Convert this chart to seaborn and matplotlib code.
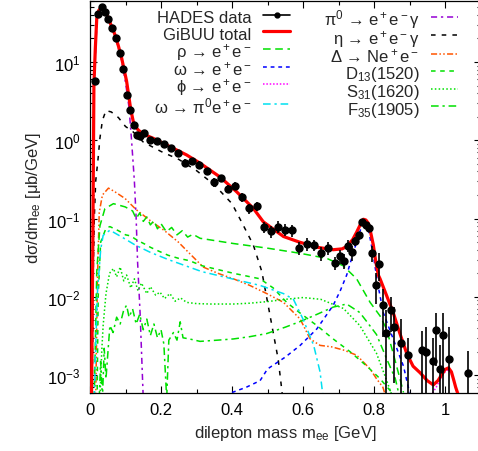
import numpy as np
import pandas as pd
import seaborn as sns
import matplotlib.pyplot as plt
from matplotlib.lines import Line2D
from matplotlib.ticker import MultipleLocator, LogLocator, NullFormatter, FormatStrFormatter

# HADES data points (mass in GeV, dsigma/dm in mub/GeV)
hades_m = [0.013, 0.0235, 0.033, 0.043, 0.052, 0.063, 0.073, 0.084, 0.094, 0.103,
           0.113, 0.123, 0.133, 0.142, 0.152, 0.169, 0.188, 0.208, 0.228, 0.249,
           0.268, 0.288, 0.308, 0.329, 0.349, 0.369, 0.389, 0.409, 0.429, 0.449,
           0.470, 0.490, 0.509, 0.530, 0.549, 0.570, 0.590, 0.610, 0.630, 0.650,
           0.670, 0.690, 0.704, 0.715, 0.727, 0.737, 0.747, 0.757, 0.767, 0.777,
           0.787, 0.795, 0.806, 0.815, 0.824, 0.835, 0.847, 0.855, 0.875, 0.896,
           0.935, 0.945, 0.965, 0.975, 0.986, 0.995, 1.010, 1.066]
hades_y = [5.8, 41, 50, 44, 35, 27, 20, 13, 8.2, 3.8,
           2.45, 1.57, 1.17, 1.12, 1.23, 1.01, 0.97, 0.89, 0.79, 0.68,
           0.52, 0.54, 0.49, 0.40, 0.29, 0.33, 0.24, 0.26, 0.19, 0.135,
           0.144, 0.078, 0.069, 0.079, 0.072, 0.071, 0.042, 0.048, 0.046, 0.036,
           0.042, 0.027, 0.033, 0.029, 0.045, 0.037, 0.052, 0.061, 0.091, 0.082,
           0.076, 0.036, 0.014, 0.026, 0.0078, 0.0035, 0.0068, 0.0041, 0.0026, 0.0018,
           0.0021, 0.0020, 0.0015, 0.0038, 0.0012, 0.0033, 0.0016, 0.00105]
hades_err = [0.3, 2.0, 2.2, 2.0, 1.6, 1.2, 0.9, 0.6, 0.4, 0.2,
             0.12, 0.09, 0.1, 0.12, 0.13, 0.06, 0.06, 0.06, 0.06, 0.06,
             0.05, 0.05, 0.05, 0.04, 0.035, 0.035, 0.03, 0.03, 0.025, 0.02,
             0.02, 0.013, 0.012, 0.013, 0.012, 0.012, 0.008, 0.009, 0.008, 0.007,
             0.008, 0.005, 0.007, 0.0065, 0.008, 0.008, 0.007, 0.007, 0.009, 0.008,
             0.008, 0.0085, 0.006, 0.01, 0.0047, 0.0033, 0.0032, 0.0033, 0.0026, 0.0012,
             0.0016, 0.0021, 0.0015, 0.0025, 0.0012, 0.003, 0.0025, 0.001]

# GiBUU total
total_m = [0.004, 0.008, 0.011, 0.015, 0.019, 0.025, 0.033, 0.042, 0.052, 0.06,
           0.07, 0.08, 0.089, 0.096, 0.103, 0.108, 0.113, 0.118, 0.122, 0.128,
           0.136, 0.15, 0.178, 0.225, 0.272, 0.31, 0.366, 0.413, 0.46, 0.488,
           0.545, 0.59, 0.64, 0.685, 0.71, 0.723, 0.74, 0.751, 0.762, 0.77,
           0.777, 0.784, 0.791, 0.798, 0.805, 0.812, 0.817, 0.835, 0.854, 0.872,
           0.892, 0.91, 0.93, 0.95, 0.967, 0.98, 0.99, 1.0, 1.01, 1.018,
           1.025, 1.03, 1.036]
total_y = [4e-4, 0.05, 5.1, 15, 36, 46, 49, 45, 36, 29,
           22.5, 16, 11.3, 8, 5.7, 4.0, 2.8, 2.1, 1.73, 1.5,
           1.35, 1.2, 1.06, 0.83, 0.65, 0.51, 0.34, 0.22, 0.135, 0.091,
           0.059, 0.050, 0.043, 0.040, 0.041, 0.044, 0.054, 0.067, 0.085, 0.098,
           0.096, 0.087, 0.065, 0.046, 0.028, 0.019, 0.017, 0.0105, 0.0063, 0.0035,
           0.0019, 0.0013, 0.00107, 0.00085, 0.00075, 0.00085, 0.001, 0.00118, 0.00124, 0.0011,
           0.00085, 0.0007, 0.00058]

# rho -> e+e-
rho_m = [0.012, 0.019, 0.028, 0.042, 0.066, 0.099, 0.12, 0.13, 0.14, 0.15,
         0.16, 0.17, 0.18, 0.19, 0.2, 0.215, 0.23, 0.245, 0.26, 0.275,
         0.29, 0.31, 0.404, 0.498, 0.592, 0.667, 0.713, 0.751, 0.789, 0.817,
         0.835, 0.854, 0.873, 0.883]
rho_y = [5e-4, 0.021, 0.081, 0.134, 0.155, 0.141, 0.125, 0.1, 0.118, 0.092,
         0.105, 0.083, 0.094, 0.074, 0.086, 0.068, 0.077, 0.062, 0.07, 0.058,
         0.063, 0.056, 0.048, 0.042, 0.036, 0.031, 0.025, 0.017, 0.0085, 0.0057,
         0.0039, 0.0019, 0.0009, 0.0006]

# omega -> e+e-
omega_m = [0.40, 0.44, 0.479, 0.50, 0.55, 0.592, 0.639, 0.685, 0.705, 0.723,
           0.742, 0.76, 0.77, 0.777, 0.784, 0.791, 0.798, 0.81, 0.826, 0.854,
           0.883, 0.90]
omega_y = [6e-4, 7e-4, 8.5e-4, 0.0012, 0.0017, 0.0024, 0.0039, 0.0078, 0.012, 0.019,
           0.037, 0.068, 0.091, 0.092, 0.074, 0.05, 0.034, 0.015, 0.0063, 0.0029,
           0.0013, 6e-4]

# phi -> e+e-
phi_m = [0.955, 0.975, 0.99, 1.0, 1.01, 1.02, 1.03, 1.037]
phi_y = [5e-4, 7e-4, 9.5e-4, 0.0011, 0.00118, 0.001, 0.0007, 5e-4]

# omega -> pi0 e+e-
omdal_m = [0.012, 0.02, 0.03, 0.037, 0.056, 0.09, 0.127, 0.17, 0.22, 0.315,
           0.40, 0.479, 0.545, 0.573, 0.60, 0.63, 0.648, 0.657]
omdal_y = [5e-4, 0.01, 0.04, 0.061, 0.071, 0.058, 0.046, 0.037, 0.030, 0.021,
           0.017, 0.014, 0.011, 0.0093, 0.0052, 0.0024, 0.0011, 5e-4]

# pi0 -> e+e-gamma
pi0_m = [0.006, 0.009, 0.011, 0.02, 0.03, 0.04, 0.05, 0.06, 0.07, 0.08,
         0.09, 0.10, 0.11, 0.117, 0.121, 0.125, 0.13, 0.134, 0.141, 0.15]
pi0_y = [4e-4, 0.3, 5, 36, 48, 46, 38, 30, 22, 15,
         10, 5.5, 2.6, 1.0, 0.55, 0.3, 0.1, 0.028, 0.0063, 5e-4]

# eta -> e+e-gamma
eta_m = [0.006, 0.009, 0.012, 0.016, 0.023, 0.028, 0.035, 0.045, 0.06, 0.08,
         0.1, 0.12, 0.15, 0.2, 0.25, 0.3, 0.35, 0.4, 0.43, 0.46,
         0.484, 0.502, 0.516, 0.53, 0.54, 0.545]
eta_y = [4e-4, 0.02, 0.1, 0.3, 0.6, 1.07, 1.8, 2.4, 2.3, 1.95,
         1.5, 1.3, 0.95, 0.72, 0.57, 0.41, 0.27, 0.155, 0.085, 0.046,
         0.021, 0.0077, 0.0035, 0.0016, 0.00066, 4e-4]

# Delta -> N e+e-
delta_m = [0.016, 0.021, 0.026, 0.035, 0.052, 0.07, 0.099, 0.13, 0.174, 0.21,
           0.249, 0.28, 0.319, 0.36, 0.404, 0.45, 0.498, 0.545, 0.592, 0.62,
           0.648, 0.68, 0.713, 0.751, 0.789, 0.807, 0.825, 0.835]
delta_y = [5e-4, 0.017, 0.12, 0.2, 0.245, 0.22, 0.18, 0.13, 0.091, 0.07,
           0.05, 0.036, 0.024, 0.02, 0.017, 0.014, 0.011, 0.0085, 0.0052, 0.0029,
           0.0024, 0.0023, 0.0021, 0.0018, 0.0012, 0.0009, 0.0007, 5e-4]

# D13(1520)
d13_m = [0.02, 0.023, 0.03, 0.045, 0.056, 0.08, 0.1, 0.115, 0.127, 0.14,
         0.155, 0.17, 0.19, 0.22, 0.25, 0.28, 0.315, 0.404, 0.479, 0.516,
         0.554, 0.59, 0.639, 0.685, 0.732, 0.78, 0.817, 0.85]
d13_y = [5e-4, 0.01, 0.05, 0.075, 0.079, 0.07, 0.062, 0.06, 0.055, 0.051,
         0.047, 0.043, 0.039, 0.034, 0.031, 0.029, 0.025, 0.02, 0.017, 0.013,
         0.0085, 0.0063, 0.0043, 0.0029, 0.002, 0.0013, 0.0009, 0.0006]

# S31(1620)
s31_m = [0.028, 0.033, 0.037, 0.045, 0.055, 0.066, 0.075, 0.085, 0.095, 0.103,
         0.115, 0.125, 0.135, 0.145, 0.16, 0.17, 0.185, 0.197, 0.21, 0.225,
         0.24, 0.255, 0.272, 0.3, 0.338, 0.404, 0.45, 0.5, 0.55, 0.60,
         0.65, 0.714, 0.76, 0.807, 0.83, 0.854]
s31_y = [5e-4, 0.002, 0.0043, 0.011, 0.02, 0.023, 0.018, 0.024, 0.016, 0.019,
         0.013, 0.017, 0.012, 0.015, 0.011, 0.0135, 0.0105, 0.0115, 0.0095, 0.011,
         0.0088, 0.0097, 0.0085, 0.0082, 0.0081, 0.0081, 0.0083, 0.0087, 0.0093, 0.0098,
         0.0093, 0.0071, 0.0043, 0.0019, 0.001, 5e-4]

# F35(1905)
f35_m = [0.026, 0.03, 0.035, 0.04, 0.045, 0.056, 0.065, 0.075, 0.085, 0.095,
         0.103, 0.11, 0.12, 0.13, 0.14, 0.15, 0.16, 0.17, 0.18, 0.19,
         0.2, 0.208, 0.216, 0.222, 0.235, 0.245, 0.254, 0.262, 0.28, 0.31,
         0.36, 0.404, 0.45, 0.498, 0.55, 0.59, 0.64, 0.685, 0.723, 0.76,
         0.78, 0.807, 0.836, 0.86, 0.873]
f35_y = [5e-4, 0.0015, 5e-4, 0.0022, 0.0009, 0.0043, 0.0035, 0.0055, 0.0045, 0.0068,
         0.0078, 0.0055, 0.007, 0.0045, 0.006, 0.0038, 0.0052, 0.0032, 0.0045, 0.003,
         0.0038, 0.0025, 5e-4, 0.0028, 0.0035, 0.0028, 0.0048, 0.003, 0.0029, 0.0027,
         0.0028, 0.0029, 0.0031, 0.0034, 0.0041, 0.0048, 0.006, 0.0074, 0.0081, 0.0063,
         0.0048, 0.0033, 0.0016, 0.0009, 5e-4]

sns.set_theme(style="ticks")
plt.rcParams["font.family"] = ["Liberation Sans", "DejaVu Sans"]
plt.rcParams["mathtext.fontset"] = "custom"
plt.rcParams["mathtext.rm"] = "Liberation Sans"
plt.rcParams["mathtext.it"] = "Liberation Sans:italic"
plt.rcParams["mathtext.default"] = "rm"

fig = plt.figure(figsize=(4.78, 4.52), dpi=100)
ax = fig.add_axes([0.1883, 0.1294, 0.817, 0.866])
ax.set_yscale("log")

GREEN = "#00e000"
curves = [
    (pi0_m, pi0_y, "#9400d3", (0, (4, 2.5, 1.5, 2.5)), r"π$^0$ → e$^+$e$^-$γ"),
    (eta_m, eta_y, "black", (0, (3, 4)), r"η → e$^+$e$^-$γ"),
    (delta_m, delta_y, "#ff5500", (0, (4, 1.5, 1, 1.5, 1, 1.5)), r"Δ → Ne$^+$e$^-$"),
    (d13_m, d13_y, GREEN, (0, (3, 3)), r"D$_{13}$(1520)"),
    (s31_m, s31_y, GREEN, (0, (1, 1.5)), r"S$_{31}$(1620)"),
    (f35_m, f35_y, GREEN, (0, (5, 2.5, 1.5, 2.5)), r"F$_{35}$(1905)"),
    (rho_m, rho_y, GREEN, (0, (5, 3)), r"ρ → e$^+$e$^-$"),
    (omega_m, omega_y, "#0000ff", (0, (2.5, 2.5)), r"ω → e$^+$e$^-$"),
    (phi_m, phi_y, "#ff00ff", (0, (1, 1.2)), r"ϕ → e$^+$e$^-$"),
    (omdal_m, omdal_y, "#00e0f0", (0, (5, 2.5, 1.5, 2.5)), r"ω → π$^0$e$^+$e$^-$"),
]
handles = {}
for xs, ys, col, ls, lab in curves:
    sns.lineplot(x=xs, y=ys, ax=ax, color=col, linestyle=ls, lw=1.1,
                 sort=False, estimator=None, legend=False, zorder=2)
    handles[lab] = Line2D([], [], color=col, linestyle=ls, lw=1.1)

sns.lineplot(x=total_m, y=total_y, ax=ax, color="#ff0000", lw=2.3,
             sort=False, estimator=None, legend=False, zorder=3)
handles["GiBUU total"] = Line2D([], [], color="#ff0000", lw=2.3)

ax.errorbar(hades_m, hades_y, yerr=hades_err, fmt="o", color="black",
            ms=5, elinewidth=1.2, capsize=0, zorder=4)
handles["HADES data"] = Line2D([], [], color="black", lw=1.2, marker="o", ms=3.5)

ax.set_xlim(0, 1.1)
ax.set_ylim(6e-4, 60)
ax.xaxis.set_major_locator(MultipleLocator(0.2))
ax.xaxis.set_minor_locator(MultipleLocator(0.1))
ax.xaxis.set_major_formatter(FormatStrFormatter("%g"))
ax.yaxis.set_minor_locator(LogLocator(base=10, subs=np.arange(2, 10)))
ax.yaxis.set_minor_formatter(NullFormatter())
ax.tick_params(which="both", direction="in", top=True, right=True,
               labelsize=12, colors="black", width=0.8)
ax.tick_params(which="major", length=5, pad=7)
ax.tick_params(which="minor", length=3)
for sp in ax.spines.values():
    sp.set_linewidth(0.9)
    sp.set_color("black")

ax.set_xlabel(r"dilepton mass m$_{\rm ee}$ [GeV]", fontsize=12, labelpad=4)
ax.set_ylabel(r"dσ/dm$_{\rm ee}$ [μb/GeV]", fontsize=12, labelpad=3)

col1 = ["HADES data", "GiBUU total", r"ρ → e$^+$e$^-$", r"ω → e$^+$e$^-$",
        r"ϕ → e$^+$e$^-$", r"ω → π$^0$e$^+$e$^-$"]
col2 = [r"π$^0$ → e$^+$e$^-$γ", r"η → e$^+$e$^-$γ", r"Δ → Ne$^+$e$^-$",
        r"D$_{13}$(1520)", r"S$_{31}$(1620)", r"F$_{35}$(1905)"]
# a tall handle box makes every legend row the same height
leg_kw = dict(loc="upper right", frameon=False, markerfirst=False, fontsize=12,
              handlelength=1.6, handletextpad=0.7, handleheight=1.4,
              labelspacing=-0.14, borderpad=0, borderaxespad=0)
leg1 = ax.legend([handles[k] for k in col1], col1, bbox_to_anchor=(0.512, 0.985), **leg_kw)
ax.add_artist(leg1)
ax.legend([handles[k] for k in col2], col2, bbox_to_anchor=(0.942, 0.985), **leg_kw)

fig.savefig("out.png", dpi=100)
